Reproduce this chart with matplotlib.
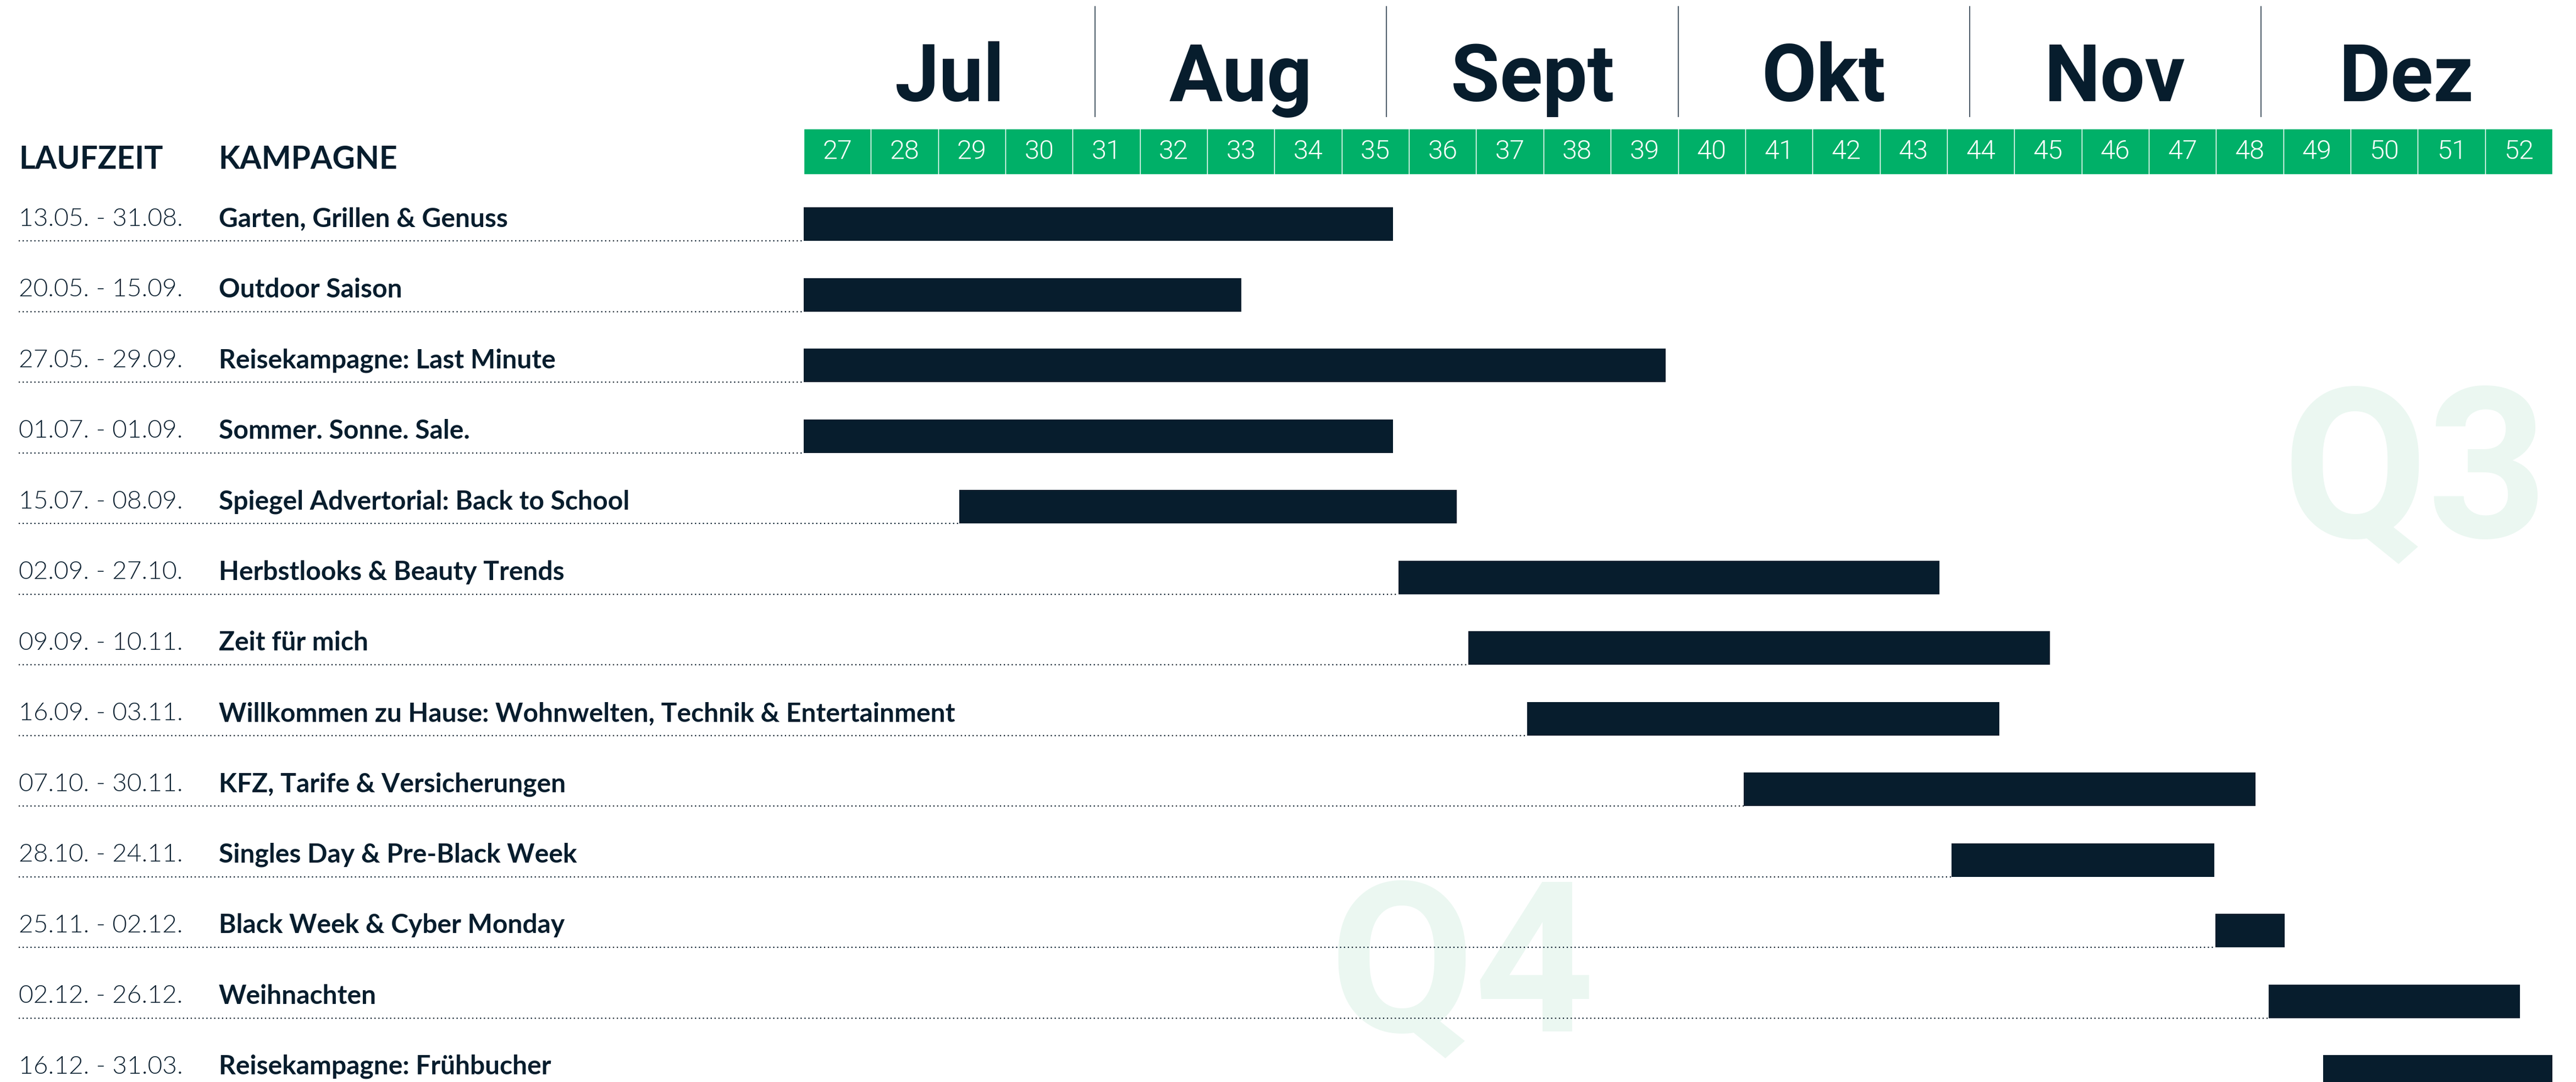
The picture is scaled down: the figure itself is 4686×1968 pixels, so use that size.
import matplotlib
matplotlib.use("Agg")
import matplotlib.pyplot as plt
import matplotlib.transforms as mtransforms

# --- data -------------------------------------------------------------
laufzeit = ["13.05. - 31.08.", "20.05. - 15.09.", "27.05. - 29.09.", "01.07. - 01.09.",
            "15.07. - 08.09.", "02.09. - 27.10.", "09.09. - 10.11.", "16.09. - 03.11.",
            "07.10. - 30.11.", "28.10. - 24.11.", "25.11. - 02.12.", "02.12. - 26.12.",
            "16.12. - 31.03."]
kampagnen = ["Garten, Grillen & Genuss", "Outdoor Saison", "Reisekampagne: Last Minute",
             "Sommer. Sonne. Sale.", "Spiegel Advertorial: Back to School",
             "Herbstlooks & Beauty Trends", "Zeit für mich",
             "Willkommen zu Hause: Wohnwelten, Technik & Entertainment",
             "KFZ, Tarife & Versicherungen", "Singles Day & Pre-Black Week",
             "Black Week & Cyber Monday", "Weihnachten", "Reisekampagne: Frühbucher"]
# bar start / end in calendar weeks (27.0 = start of KW 27)
bar_start = [27.0, 27.0, 27.0, 27.0, 29.31, 35.84, 36.88, 37.76, 40.98, 44.07, 47.99, 48.78, 49.59]
bar_end = [35.76, 33.51, 39.82, 35.76, 36.71, 43.89, 45.53, 44.78, 48.59, 47.97, 49.02, 52.52, 53.0]
weeks = list(range(27, 53))
months = ["Jul", "Aug", "Sept", "Okt", "Nov", "Dez"]

# --- style --------------------------------------------------------------
navy = "#071D2D"
green = "#00B068"
ghost = "#EBF7F1"

fig = plt.figure(figsize=(46.86, 19.68), dpi=100)
ax = fig.add_axes([0, 0, 1, 1])
ax.set_xlim(15.051, 53.351)
ax.set_ylim(12.226, -3.09)
ax.axis("off")

# watermarks
ax.text(50.96, 4.51, "Q3", fontsize=275, family="Roboto", fontweight="bold",
        color=ghost, ha="center", va="baseline", zorder=0)
ax.text(36.79, 11.50, "Q4", fontsize=275, family="Roboto", fontweight="bold",
        color=ghost, ha="center", va="baseline", zorder=0)

# month header
mw = len(weeks) / len(months)
for k, m in enumerate(months):
    ax.text(weeks[0] + (k + 0.5) * mw, -1.658, m, fontsize=104, family="Roboto",
            fontweight="bold", color=navy, ha="center", va="baseline")
    if k > 0:
        ax.plot([weeks[0] + k * mw] * 2, [-3.0, -1.44], color="#3C4C5A", lw=1.3)

# week cells
ax.bar(weeks, 0.645, bottom=-1.268, width=1, align="edge", color=green,
       edgecolor="white", linewidth=1)
for w in weeks:
    ax.text(w + 0.5, -0.945, str(w), fontsize=35, family="Roboto", fontweight=300,
            color="white", ha="center", va="center")

# left column
x_lauf, x_kamp = 0.0073, 0.0849
trans = mtransforms.blended_transform_factory(ax.transAxes, ax.transData)
ax.text(x_lauf, -0.83, "LAUFZEIT", transform=trans, fontsize=41, family="Lato",
        fontweight="bold", color=navy, va="center")
ax.text(x_kamp, -0.83, "KAMPAGNE", transform=trans, fontsize=41, family="Lato",
        fontweight="bold", color=navy, va="center")

rows = list(range(len(kampagnen)))
for i in rows:
    ax.text(x_lauf, i + 0.01, laufzeit[i], transform=trans, fontsize=33.2, family="Lato",
            fontweight=300, color="#0E2333", va="center")
    ax.text(x_kamp, i + 0.01, kampagnen[i], transform=trans, fontsize=34.6, family="Lato",
            fontweight="bold", color=navy, va="center")
    ax.plot([15.33, bar_start[i]], [i + 0.32, i + 0.32], color=navy, lw=1.6,
            linestyle=(0, (1, 2.2)), zorder=2)

widths = [e - s for s, e in zip(bar_start, bar_end)]
ax.barh([i - 0.155 for i in rows], widths, left=bar_start, height=0.475,
        align="edge", color=navy, zorder=3)

fig.savefig("out.png", dpi=100, facecolor="white")
